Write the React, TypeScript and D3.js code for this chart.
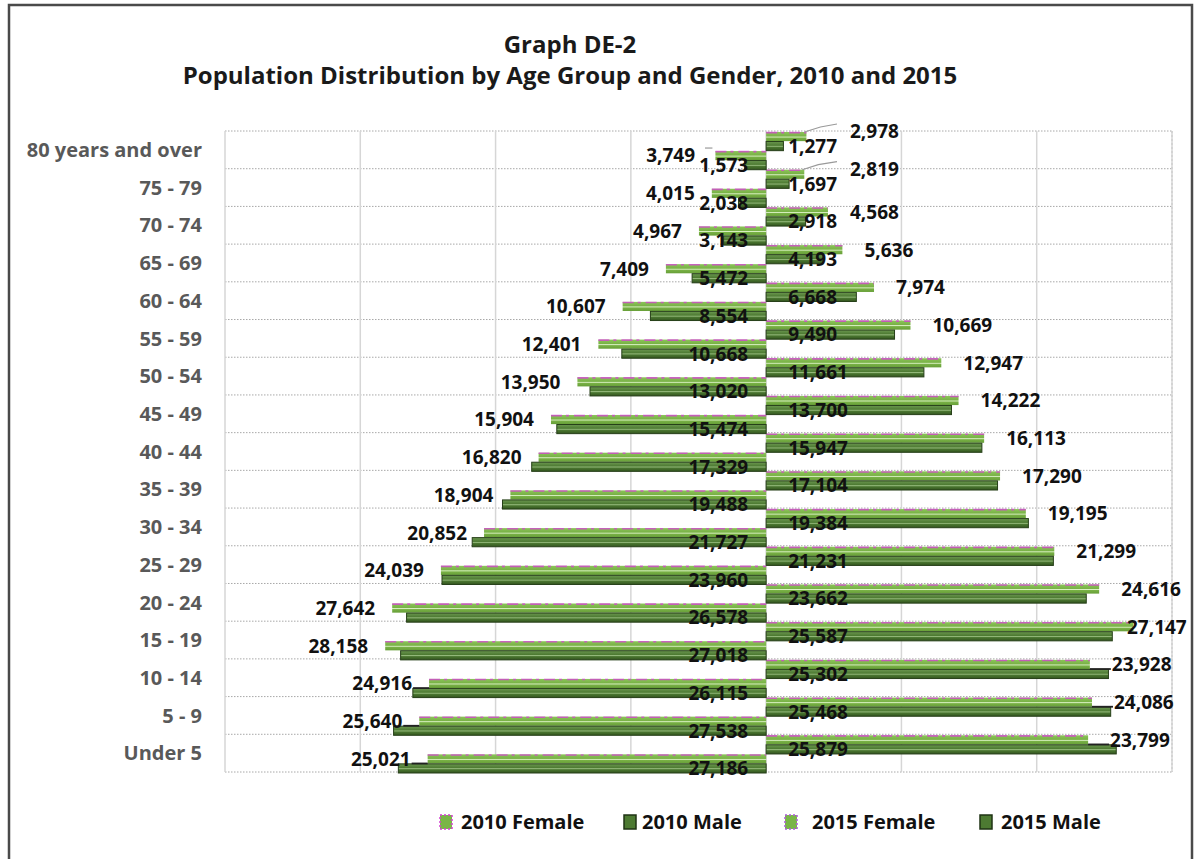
import React from "react";
import * as d3 from "d3";

// Age groups, bottom to top
const ageGroups = [
  "Under 5", "5 - 9", "10 - 14", "15 - 19", "20 - 24", "25 - 29", "30 - 34",
  "35 - 39", "40 - 44", "45 - 49", "50 - 54", "55 - 59", "60 - 64", "65 - 69",
  "70 - 74", "75 - 79", "80 years and over",
];

const female2010 = [25021, 25640, 24916, 28158, 27642, 24039, 20852, 18904, 16820, 15904, 13950, 12401, 10607, 7409, 4967, 4015, 3749];
const male2010 = [27186, 27538, 26115, 27018, 26578, 23960, 21727, 19488, 17329, 15474, 13020, 10668, 8554, 5472, 3143, 2038, 1573];
const female2015 = [23799, 24086, 23928, 27147, 24616, 21299, 19195, 17290, 16113, 14222, 12947, 10669, 7974, 5636, 4568, 2819, 2978];
const male2015 = [25879, 25468, 25302, 25587, 23662, 21231, 19384, 17104, 15947, 13700, 11661, 9490, 6668, 4193, 2918, 1697, 1277];

const xTicks = [-40000, -30000, -20000, -10000, 0, 10000, 20000, 30000];
const legendLabels = ["2010 Female", "2010 Male", "2015 Female", "2015 Male"];
const leaderRows = ["Under 5", "5 - 9", "10 - 14"];

const W = 1200;
const H = 859;
const plot = { left: 225, right: 1172, top: 131, bottom: 772 };
const FONT = "'Open Sans', 'DejaVu Sans', sans-serif";
const fmt = d3.format(",");

type Series = {
  key: string;
  values: number[];
  side: number; // -1 left, +1 right
  kind: "female" | "male";
};

const series: Series[] = [
  { key: "2015 Female", values: female2015, side: 1, kind: "female" },
  { key: "2015 Male", values: male2015, side: 1, kind: "male" },
  { key: "2010 Female", values: female2010, side: -1, kind: "female" },
  { key: "2010 Male", values: male2010, side: -1, kind: "male" },
];

const legendX = [440, 624, 785, 980];
const legendTextGap = [21, 18, 27, 21];

export default function App() {
  const x = d3.scaleLinear().domain([-40000, 30000]).range([plot.left, plot.right]);
  const y = d3
    .scaleBand<string>()
    .domain([...ageGroups].reverse())
    .range([plot.top, plot.bottom])
    .paddingInner(0)
    .paddingOuter(0);
  const slot = d3
    .scaleBand<string>()
    .domain(series.map((s) => s.key))
    .range([1, y.bandwidth() + 1])
    .paddingInner(0.04);

  const x0 = x(0);
  const bh = slot.bandwidth();

  const bars: React.ReactNode[] = [];
  const labels: React.ReactNode[] = [];
  const leaders: React.ReactNode[] = [];

  series.forEach((s) => {
    s.values.forEach((v, i) => {
      const g = ageGroups[i];
      const top = (y(g) as number) + (slot(s.key) as number);
      const end = x(s.side * v);
      const bx = Math.min(end, x0);
      const bw = Math.abs(end - x0);
      const cy = top + bh / 2;
      const fill = s.kind === "female" ? "url(#gLight)" : "url(#gDark)";
      bars.push(
        <g key={`b-${s.key}-${g}`}>
          <rect
            x={bx}
            y={top}
            width={bw}
            height={bh}
            fill={fill}
            stroke={s.kind === "male" ? "#263f18" : "none"}
            strokeWidth={s.kind === "male" ? 1 : 0}
          />
          {s.kind === "female" && (
            <line
              x1={bx}
              x2={bx + bw}
              y1={top + 0.6}
              y2={top + 0.6}
              stroke="#d63fd6"
              strokeWidth={1.6}
              strokeDasharray="11 4 3 5"
              opacity={0.75}
            />
          )}
        </g>
      );

      let tx: number;
      let anchor: "start" | "end";
      if (s.side < 0 && s.kind === "female") {
        tx = Math.min(end - 17, 695);
        anchor = "end";
        if (end - tx > 19) {
          leaders.push(
            <line key={`l-${s.key}-${g}`} x1={tx + 10} x2={end - 3} y1={top - 3} y2={top - 3} stroke="#9a9a9a" strokeWidth={1.2} />
          );
        } else if (leaderRows.includes(g)) {
          leaders.push(
            <line key={`l-${s.key}-${g}`} x1={tx + 1} x2={end} y1={top + bh} y2={top + bh} stroke="#222" strokeWidth={1.8} />
          );
        }
      } else if (s.side < 0) {
        tx = x0 - 18;
        anchor = "end";
      } else if (s.kind === "male") {
        tx = x0 + 22;
        anchor = "start";
      } else {
        tx = Math.max(850, Math.min(end + 22, plot.right - 45));
        anchor = "start";
        if (tx - end > 30) {
          leaders.push(
            <path
              key={`l-${s.key}-${g}`}
              d={`M${end - 2},${top} L${end + 14},${top - 5} L${tx - 13},${top - 8}`}
              fill="none"
              stroke="#9a9a9a"
              strokeWidth={1.2}
            />
          );
        } else if (leaderRows.includes(g)) {
          leaders.push(
            <line key={`l-${s.key}-${g}`} x1={end} x2={tx - 1} y1={top + bh} y2={top + bh} stroke="#222" strokeWidth={1.8} />
          );
        }
      }
      const ly = s.side > 0 && s.kind === "female" && tx - end > 30 ? cy - 5 : cy;
      labels.push(
        <text
          key={`t-${s.key}-${g}`}
          x={tx}
          y={ly}
          dy="0.36em"
          textAnchor={anchor}
          fontFamily={FONT}
          fontWeight={700}
          fontSize={19}
          fill="#111"
        >
          {fmt(v)}
        </text>
      );
    });
  });

  const bandEdges = [...ageGroups.map((g) => y(g) as number), plot.bottom];

  return (
    <svg
      width={W}
      height={H}
      viewBox={`0 0 ${W} ${H}`}
      style={{ position: "absolute", left: 0, top: 0, background: "#fff" }}
    >
      <defs>
        <linearGradient id="gLight" x1="0" y1="0" x2="0" y2="1">
          <stop offset="0" stopColor="#8cc45a" />
          <stop offset="0.45" stopColor="#79b246" />
          <stop offset="0.55" stopColor="#d9f0c2" />
          <stop offset="0.66" stopColor="#78b045" />
          <stop offset="1" stopColor="#679f38" />
        </linearGradient>
        <linearGradient id="gDark" x1="0" y1="0" x2="0" y2="1">
          <stop offset="0" stopColor="#6c9851" />
          <stop offset="0.42" stopColor="#4e7b33" />
          <stop offset="0.52" stopColor="#93b87a" />
          <stop offset="0.64" stopColor="#4a7630" />
          <stop offset="1" stopColor="#33551f" />
        </linearGradient>
      </defs>

      <rect x={9} y={5} width={1183} height={880} fill="#fff" stroke="#4a4a4a" strokeWidth={2.5} />

      <text x={570} y={45} dy="0.35em" textAnchor="middle" fontFamily={FONT} fontWeight={700} fontSize={24} fill="#1a1a1a">
        Graph DE-2
      </text>
      <text x={570} y={76} dy="0.35em" textAnchor="middle" fontFamily={FONT} fontWeight={700} fontSize={24} fill="#1a1a1a">
        Population Distribution by Age Group and Gender, 2010 and 2015
      </text>

      {/* horizontal dotted gridlines at band edges */}
      {bandEdges.map((yy, i) => (
        <line key={`h-${i}`} x1={plot.left} x2={plot.right} y1={yy} y2={yy} stroke="#a8a8a8" strokeWidth={1} strokeDasharray="1.5 1.5" />
      ))}
      {/* vertical gridlines */}
      {xTicks.map((t) => (
        <line key={`v-${t}`} x1={x(t)} x2={x(t)} y1={plot.top} y2={plot.bottom} stroke="#d6d6d6" strokeWidth={1.5} />
      ))}
      <line x1={plot.right} x2={plot.right} y1={plot.top} y2={plot.bottom} stroke="#c8c8c8" strokeWidth={1} strokeDasharray="2 2" />

      {/* category labels */}
      {ageGroups.map((g) => (
        <text
          key={`c-${g}`}
          x={202}
          y={(y(g) as number) + y.bandwidth() / 2}
          dy="0.36em"
          textAnchor="end"
          fontFamily={FONT}
          fontWeight={700}
          fontSize={20}
          fill="#595959"
        >
          {g}
        </text>
      ))}

      {bars}
      {leaders}
      {labels}

      {/* legend */}
      {legendLabels.map((name, i) => {
        const female = name.includes("Female");
        const lx = legendX[i];
        return (
          <g key={`lg-${name}`}>
            <rect
              x={lx}
              y={815}
              width={12}
              height={14}
              fill={female ? "#7ab547" : "#4d7a32"}
              stroke={female ? (i === 0 ? "#d63fd6" : "#b05adf") : "#1f3314"}
              strokeWidth={1.5}
              strokeDasharray={female ? "2 2" : undefined}
            />
            <text
              x={lx + legendTextGap[i]}
              y={822}
              dy="0.36em"
              fontFamily={FONT}
              fontWeight={700}
              fontSize={20}
              fill="#111"
            >
              {name}
            </text>
          </g>
        );
      })}
    </svg>
  );
}
